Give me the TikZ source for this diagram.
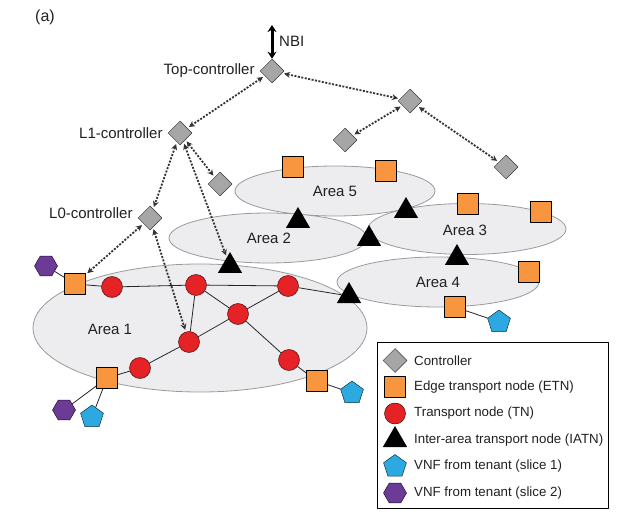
\documentclass[tikz,border=0pt]{standalone}
\usepackage{fontspec}
\setmainfont{Liberation Sans}
\usetikzlibrary{shapes.geometric,arrows.meta,positioning}
\definecolor{etncol}{RGB}{247,150,63}
\definecolor{tncol}{RGB}{229,34,38}
\definecolor{vnfa}{RGB}{45,169,225}
\definecolor{vnfb}{RGB}{108,59,150}
\definecolor{areafill}{RGB}{237,237,240}
\definecolor{arealine}{RGB}{154,154,154}
\definecolor{txt}{RGB}{35,31,32}
\begin{document}
\begin{tikzpicture}[x=1pt, y=-1pt, font=\fontsize{15}{17}\selectfont, text=txt, line join=round]
	\tikzset{ctl/.style={diamond,draw=black!80,fill=black!35,inner sep=0,minimum size=24pt,line width=0.5pt},
		etn/.style={rectangle,draw=black,fill=etncol,inner sep=0,minimum size=21pt,line width=0.6pt},
		tn/.style={circle,draw=black!70!tncol,fill=tncol,inner sep=0,minimum size=21pt,line width=0.5pt},
		iatn/.style={regular polygon,regular polygon sides=3,fill=black,inner sep=0,minimum size=28pt},
		vnfone/.style={regular polygon,regular polygon sides=5,draw=black!70!vnfa,fill=vnfa,inner sep=0,minimum size=24pt,line width=0.5pt},
		vnftwo/.style={regular polygon,regular polygon sides=6,draw=black!70!vnfb,fill=vnfb,inner sep=0,minimum size=23pt,line width=0.5pt},
		area/.style={draw=arealine,fill=areafill,line width=0.8pt},
		link/.style={draw=black!85,line width=0.8pt},
		ctrl/.style={draw=black!80,line width=1.8pt,dash pattern=on 2pt off 1.5pt,{Stealth[length=6pt,width=6pt]}-{Stealth[length=6pt,width=6pt]},shorten <=2pt,shorten >=2pt}}
	\useasboundingbox (0,0) rectangle (630,524);
	% areas
	\path[area] (335,191) ellipse [x radius=100pt, y radius=25pt];
	\path[area] (268,238) ellipse [x radius=99pt, y radius=25pt];
	\path[area] (467,229) ellipse [x radius=99pt, y radius=25.5pt];
	\path[area] (438,282) ellipse [x radius=101pt, y radius=25pt];
	\path[area] (200,328) ellipse [x radius=167pt, y radius=64pt];
	\path (110,329)node(ar1){Area 1} (269,238)node(ar2){Area 2} (465,230)node(ar3){Area 3}
		(438,282)node(ar4){Area 4} (335,191)node(ar5){Area 5};
	\path (45,17)node[font=\fontsize{16}{18}\selectfont](fig){(a)};
	% controllers
	\path (272,71)node[ctl](top){} (180,133)node[ctl](lone){} (150,218)node[ctl](lzero){}
		(220,184)node[ctl](cA){} (410,101)node[ctl](cB){} (345,140)node[ctl](cC){} (506,167)node[ctl](cD){};
	\node[left=5pt of top,inner sep=0](toplab){Top-controller};
	\node[left=5pt of lone,inner sep=0](lonelab){L1-controller};
	\node[left=5pt of lzero,inner sep=0,yshift=5pt](lzerolab){L0-controller};
	\coordinate (nbiup) at (272,25);
	\draw[line width=3pt,{Stealth[length=7pt,width=9pt]}-{Stealth[length=7pt,width=9pt]}] (nbiup)--(top.north);
	\path (279,41)node[anchor=west,inner sep=0](nbi){NBI};
	% edge transport nodes
	\path (75,284)node[etn](e1){} (107,378)node[etn](e2){} (317,381)node[etn](e3){}
		(293,167)node[etn](e4){} (386,171)node[etn](e5){} (468,204)node[etn](e6){}
		(541,212)node[etn](e7){} (529,272)node[etn](e8){} (455,307)node[etn](e9){};
	% transport nodes
	\path (112,287)node[tn](t1){} (196,285)node[tn](t2){} (288,286)node[tn](t3){}
		(238,314)node[tn](t4){} (189,342)node[tn](t5){} (140,368)node[tn](t6){} (289,360)node[tn](t7){};
	% inter-area nodes
	\path (230,266)node[iatn](a1){} (298,221)node[iatn](a2){} (406,211)node[iatn](a3){}
		(369,239)node[iatn](a4){} (457,258)node[iatn](a5){} (349,296)node[iatn](a6){};
	% tenant VNFs
	\path (92,417)node[vnfone](p1){} (352,393)node[vnfone](p2){} (499,322)node[vnfone](p3){}
		(46,266)node[vnftwo](h1){} (64,410)node[vnftwo](h2){};
	\foreach \x/\y in {
		e1/t1,t1/t2,t2/t3,t3/a6,
		t2/t4,t2/t5,t3/t4,t4/t5,
		t5/t6,t6/e2,t4/t7,t7/e3,
		e2/h2,e2/p1,e1/h1,e3/p2,e9/p3}
	\draw[link](\x)--(\y);
	\foreach \x/\y in {
		top/lone,top/cB,cB/cC,cB/cD,
		lone/lzero,lone/cA,lone/a1,
		lzero/e1,lzero/t5}
	\draw[ctrl](\x)--(\y);
	% legend
	\draw[line width=0.8pt] (377,342) rectangle (608,508);
	\foreach \i/\s/\t in {
		1/ctl/Controller,
		2/etn/Edge transport node (ETN),
		3/tn/Transport node (TN),
		4/iatn/Inter-area transport node (IATN),
		5/vnfone/VNF from tenant (slice 1),
		6/vnftwo/VNF from tenant (slice 2)}
	{\path (395,{334+26.5*\i})node[\s](l\i){} (414,{334+26.5*\i})node[anchor=west,inner sep=0,font=\fontsize{13.3}{15}\selectfont](lt\i){\t};}
\end{tikzpicture}
\end{document}
